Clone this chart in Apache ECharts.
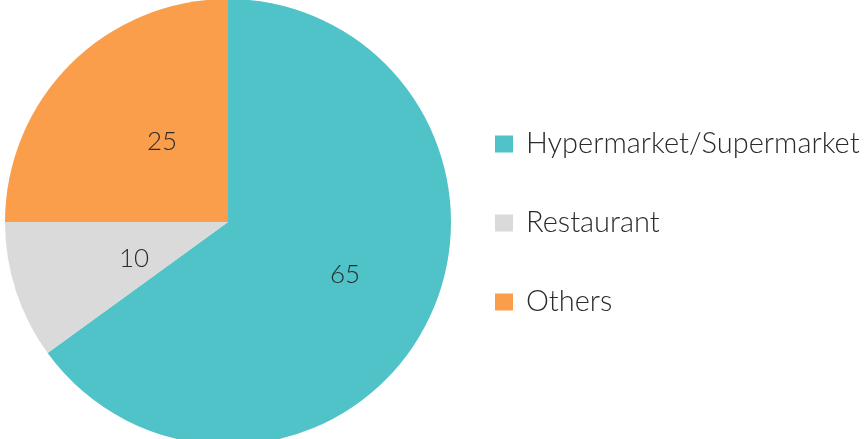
<!DOCTYPE html>
<html>
<head>
<meta charset="utf-8">
<script src="https://cdn.jsdelivr.net/npm/echarts@6/dist/echarts.min.js"></script>
<style>
  html, body { margin: 0; padding: 0; background: #ffffff; }
  #chart { width: 867px; height: 439px; }
</style>
</head>
<body>
<div id="chart"></div>
<script>
// Distribution by channel (%)
const categories = ['Hypermarket/Supermarket', 'Restaurant', 'Others'];
const shares = [65, 10, 25];
const colors = ['#4fc3c8', '#dadada', '#fb9e4b'];

const chart = echarts.init(document.getElementById('chart'), null, { renderer: 'canvas' });

chart.setOption({
  animation: false,
  textStyle: { fontFamily: 'Lato' },
  legend: {
    orient: 'vertical',
    left: 490,
    top: 124,
    icon: 'rect',
    itemWidth: 18,
    itemHeight: 17,
    itemGap: 49,
    selectedMode: false,
    data: categories,
    textStyle: {
      fontFamily: 'Lato',
      fontWeight: 300,
      fontSize: 29,
      lineHeight: 30,
      color: '#2b2b2b',
      padding: [0, 0, 0, 8]
    }
  },
  series: [{
    type: 'pie',
    center: [228, 222],
    radius: 223,
    startAngle: 90,
    clockwise: true,
    silent: true,
    label: {
      show: true,
      position: 'inside',
      formatter: '{c}',
      fontFamily: 'Lato',
      fontWeight: 300,
      fontSize: 26,
      color: '#2b2b2b',
      offset: [15, 1]
    },
    labelLine: { show: false },
    data: categories.map((name, i) => ({
      name: name,
      value: shares[i],
      itemStyle: { color: colors[i] }
    }))
  }]
});
</script>
</body>
</html>
